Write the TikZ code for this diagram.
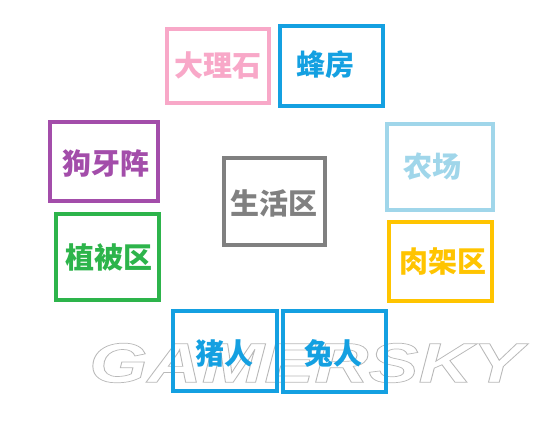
\documentclass[tikz,border=0pt]{standalone}
\usepackage{fontspec}
\newfontfamily\cjk{Noto Sans CJK SC}
\newfontfamily\wmfont{Liberation Sans}
\definecolor{cpink}{RGB}{248,168,200}
\definecolor{cblue}{RGB}{20,160,225}
\definecolor{cpurple}{RGB}{163,77,170}
\definecolor{cgreen}{RGB}{45,180,75}
\definecolor{cgray}{RGB}{128,128,128}
\definecolor{clblue}{RGB}{160,214,234}
\definecolor{cyellow}{RGB}{255,196,0}
\definecolor{cwm}{RGB}{185,185,185}
\newcommand\outlinetext[1]{\special{pdf:literal direct 1 Tr 0.7 w}#1\special{pdf:literal direct 0 Tr}}
\begin{document}
\begin{tikzpicture}[x=1pt,y=1pt,
  zone/.style={draw=#1, line width=4pt, rectangle, inner sep=0pt},
  lbl/.style={text=#1, font=\cjk\bfseries\fontsize{29}{29}\selectfont, inner sep=0pt},
  wm/.style={font=\wmfont\bfseries\itshape\fontsize{56}{56}\selectfont, xscale=1.34, transform shape, inner sep=0pt, text=#1}]
\useasboundingbox (0,0) rectangle (550,437);
% watermark (outlined text)
\node[wm=cwm] (wm) at (306,74) {\outlinetext{GAMERSKY}};
% boxes
\node[zone=cpink, minimum width=102pt, minimum height=74pt] (dls) at (218,371) {};
\node[zone=cblue, minimum width=103pt, minimum height=80pt] (ff) at (331.5,371) {};
\node[zone=cpurple, minimum width=108pt, minimum height=79pt] (gyz) at (104,275.5) {};
\node[zone=cgreen, minimum width=103pt, minimum height=86pt] (zbq) at (107.5,180) {};
\node[zone=cgray, minimum width=101pt, minimum height=87pt] (shq) at (274.5,235.5) {};
\node[zone=clblue, minimum width=106pt, minimum height=86pt] (nc) at (440,270) {};
\node[zone=cyellow, minimum width=103pt, minimum height=79pt] (rjq) at (440.5,175.5) {};
\node[zone=cblue, minimum width=104pt, minimum height=80pt] (zr) at (225,86) {};
\node[zone=cblue, minimum width=103pt, minimum height=81pt] (tr) at (334.5,85.5) {};
% labels
\node[lbl=cpink] (tdls) at (218,372) {大理石};
\node[lbl=cblue] (tff) at (325,372) {蜂房};
\node[lbl=cpurple] (tgyz) at (106,274) {狗牙阵};
\node[lbl=cgreen] (tzbq) at (109,180) {植被区};
\node[lbl=cgray] (tshq) at (274,234) {生活区};
\node[lbl=clblue] (tnc) at (432.5,270) {农场};
\node[lbl=cyellow] (trjq) at (442.5,175) {肉架区};
\node[lbl=cblue] (tzr) at (224,84) {猪人};
\node[lbl=cblue] (ttr) at (333,84) {兔人};
\end{tikzpicture}
\end{document}
